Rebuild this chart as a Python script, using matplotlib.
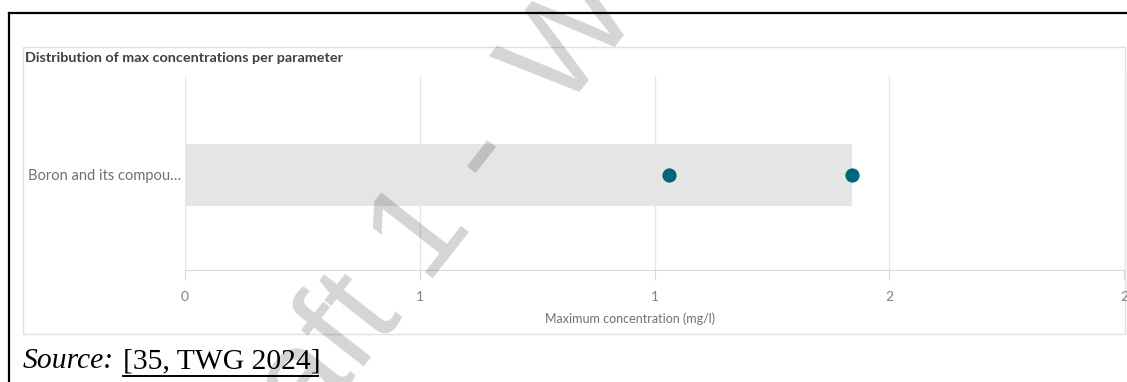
import matplotlib
matplotlib.use("Agg")
import matplotlib.pyplot as plt
from matplotlib.lines import Line2D
from matplotlib.patches import Rectangle

# data
parameters = ["Boron and its compou\u2026"]
range_min = [0.0]
range_max = [1.42]
point_values = [1.03, 1.42]
x_ticks = [0, 0.5, 1.0, 1.5, 2.0]
x_tick_labels = ["0", "1", "1", "2", "2"]

W, H = 1127, 382
UI_FONT = ["Lato", "DejaVu Sans"]


def px(x, y):
    """pixel position (from top-left) -> figure fraction"""
    return x / W, 1 - y / H


fig = plt.figure(figsize=(W / 100, H / 100), dpi=100)

# page frame (top and left rule)
fig.add_artist(Line2D([px(9, 0)[0], 1], [px(0, 13)[1]] * 2, color="black", lw=1.6))
fig.add_artist(Line2D([px(9, 0)[0]] * 2, [0, px(0, 13)[1]], color="black", lw=1.6))

# chart panel
x0, y0 = px(23, 334)
x1, y1 = px(1125, 47)
fig.add_artist(Rectangle((x0, y0), x1 - x0, y1 - y0, transform=fig.transFigure,
                         facecolor="white", edgecolor="#e0e0e0", lw=1, zorder=0))

fig.text(*px(25, 58), "Distribution of max concentrations per parameter",
         family=UI_FONT, fontweight="bold", fontsize=10.4, color="#404040",
         ha="left", va="center")

ax_l, ax_b = px(185, 270)
ax_r, ax_t = px(1124, 76)
ax = fig.add_axes([ax_l, ax_b, ax_r - ax_l, ax_t - ax_b])
ax.set_facecolor("none")

y = list(range(len(parameters)))
widths = [hi - lo for lo, hi in zip(range_min, range_max)]
ax.barh(y, widths, left=range_min, height=0.32, color="#e5e5e5", zorder=1)
ax.scatter(point_values, [y[0]] * len(point_values), s=105, color="#00657f",
           zorder=3, linewidths=0)

ax.set_xlim(0, 2.0)
ax.set_ylim(-0.49, 0.51)
ax.set_xticks(x_ticks)
ax.set_xticklabels(x_tick_labels, family=UI_FONT, fontsize=10, color="#808080")
ax.set_yticks(y)
ax.set_yticklabels(parameters, family=UI_FONT, fontsize=10.5, color="#707070")
ax.tick_params(axis="x", length=7, color="#d9d9d9", pad=8)
ax.tick_params(axis="y", length=0, pad=3)
ax.grid(axis="x", color="#e6e6e6", lw=1, zorder=0)
ax.set_axisbelow(True)
for side in ["top", "right", "left"]:
    ax.spines[side].set_visible(False)
ax.spines["bottom"].set_color("#d9d9d9")

fig.text(*px(630, 319), "Maximum concentration (mg/l)", family=UI_FONT,
         fontsize=9.0, color="#707070", ha="center", va="center")

# source line
fig.text(*px(23, 368), "Source:", family="Liberation Serif", style="italic",
         fontsize=21.3, color="black", ha="left", va="baseline")
fig.text(*px(123, 368), "[35, TWG 2024]", family="Liberation Serif",
         fontsize=21.3, color="black", ha="left", va="baseline")
fig.add_artist(Line2D([px(123, 0)[0], px(318, 0)[0]], [px(0, 376)[1]] * 2,
                      color="black", lw=1.4))

# draft watermark (two pieces, the original is spaced wider than Liberation Sans)
wm = dict(family="Liberation Sans", fontsize=98, color="black", alpha=0.17,
          rotation=52, rotation_mode="anchor", ha="left", va="baseline", zorder=100)
fig.text(*px(222, 548), "Draft 1 -", **wm)
fig.text(*px(563, 114), "Work in progress", **wm)

fig.savefig("out.png", dpi=100)
